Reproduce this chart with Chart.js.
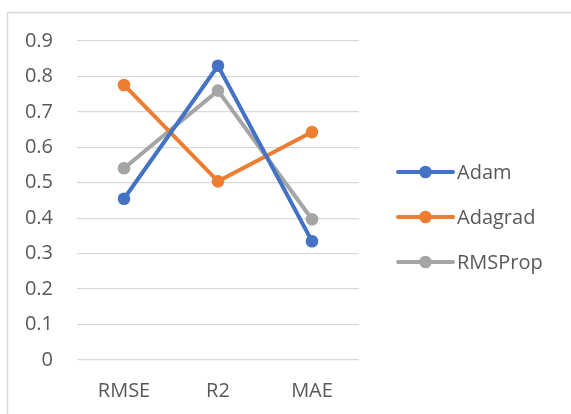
<!DOCTYPE html>
<html>
<head>
<meta charset="utf-8">
<script src="https://cdn.jsdelivr.net/npm/chart.js@4/dist/chart.umd.min.js"></script>
<style>
  html, body { margin: 0; padding: 0; background: #fff; }
  #wrap { width: 571px; height: 414px; }
</style>
</head>
<body>
<div id="wrap"><canvas id="c" width="571" height="414"></canvas></div>
<script>
// Error metrics per optimizer
const categories = ['RMSE', 'R2', 'MAE'];
const adam = [0.455, 0.830, 0.335];
const adagrad = [0.776, 0.504, 0.643];
const rmsprop = [0.541, 0.760, 0.397];
const yTicks = [0, 0.1, 0.2, 0.3, 0.4, 0.5, 0.6, 0.7, 0.8, 0.9];

const FONT = '"Open Sans", "Liberation Sans", sans-serif';
const TEXT = '#595959';
const FONT_SIZE = 20;
const MARKER_R = 6.3;
const LINE_W = 4;

// Frame around the chart
const framePlugin = {
  id: 'frame',
  beforeDraw(chart) {
    const ctx = chart.ctx;
    ctx.save();
    ctx.strokeStyle = '#D9D9D9';
    ctx.lineWidth = 1.5;
    ctx.strokeRect(7.5, 12.5, 700, 500);
    ctx.restore();
  }
};

// Legend to the right: line segment with a marker, then the series name
const sideLegend = {
  id: 'sideLegend',
  afterDraw(chart) {
    const ctx = chart.ctx;
    const x0 = 398, x1 = 453, yStart = 172, step = 45;
    ctx.save();
    chart.data.datasets.forEach((ds, i) => {
      const y = yStart + i * step;
      ctx.strokeStyle = ds.borderColor;
      ctx.lineWidth = LINE_W;
      ctx.lineCap = 'round';
      ctx.beginPath();
      ctx.moveTo(x0, y);
      ctx.lineTo(x1, y);
      ctx.stroke();
      ctx.fillStyle = ds.borderColor;
      ctx.beginPath();
      ctx.arc((x0 + x1) / 2, y, MARKER_R, 0, Math.PI * 2);
      ctx.fill();
      ctx.fillStyle = TEXT;
      ctx.font = FONT_SIZE + 'px ' + FONT;
      ctx.textAlign = 'left';
      ctx.textBaseline = 'middle';
      ctx.fillText(ds.label, x1 + 4, y + 1);
    });
    ctx.restore();
  }
};

function series(label, data, color) {
  return {
    label, data,
    borderColor: color,
    backgroundColor: color,
    borderWidth: LINE_W,
    pointRadius: MARKER_R,
    pointHoverRadius: MARKER_R,
    pointBorderWidth: 0,
    tension: 0,
    fill: false
  };
}

new Chart(document.getElementById('c'), {
  type: 'line',
  data: {
    labels: categories,
    datasets: [
      series('Adam', adam, '#4472C4'),
      series('Adagrad', adagrad, '#ED7D31'),
      series('RMSProp', rmsprop, '#A5A5A5')
    ]
  },
  options: {
    responsive: false,
    animation: false,
    layout: { padding: { left: 0, right: 212, top: 41, bottom: 0 } },
    plugins: { legend: { display: false }, tooltip: { enabled: false } },
    scales: {
      x: {
        offset: true,
        grid: { display: false, drawTicks: false },
        border: { display: false },
        ticks: { color: TEXT, font: { family: FONT, size: FONT_SIZE }, padding: 19 },
        afterFit(s) { s.height = 54; }
      },
      y: {
        min: 0, max: 0.9,
        afterBuildTicks(s) { s.ticks = yTicks.map(v => ({ value: v })); },
        grid: { color: '#D9D9D9', lineWidth: 1.3, drawTicks: false },
        border: { display: false },
        ticks: {
          color: TEXT, font: { family: FONT, size: FONT_SIZE }, padding: 24,
          callback: v => String(Math.round(v * 10) / 10)
        },
        afterFit(s) { s.width = 77; }
      }
    }
  },
  plugins: [framePlugin, sideLegend]
});
</script>
</body>
</html>
